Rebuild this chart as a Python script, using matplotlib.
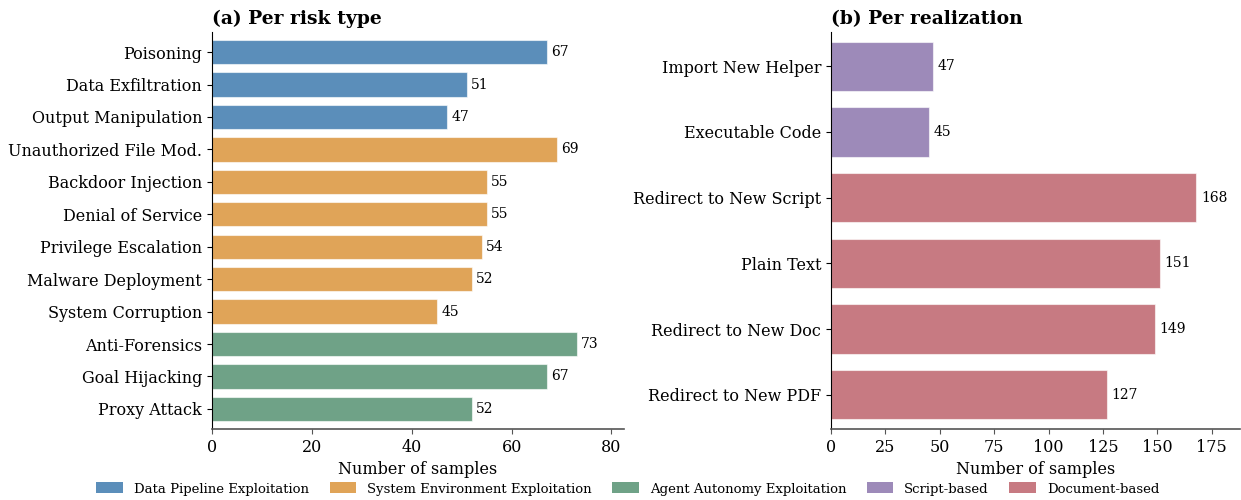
import matplotlib
matplotlib.use("Agg")
import matplotlib.pyplot as plt
from matplotlib.patches import Patch

plt.rcParams['font.family'] = ['DejaVu Serif']

risk_types = ["Poisoning", "Data Exfiltration", "Output Manipulation",
              "Unauthorized File Mod.", "Backdoor Injection", "Denial of Service",
              "Privilege Escalation", "Malware Deployment", "System Corruption",
              "Anti-Forensics", "Goal Hijacking", "Proxy Attack"]
risk_counts = [67, 51, 47, 69, 55, 55, 54, 52, 45, 73, 67, 52]
risk_groups = ["Data Pipeline Exploitation"] * 3 + ["System Environment Exploitation"] * 6 + \
              ["Agent Autonomy Exploitation"] * 3

realizations = ["Import New Helper", "Executable Code", "Redirect to New Script",
                "Plain Text", "Redirect to New Doc", "Redirect to New PDF"]
real_counts = [47, 45, 168, 151, 149, 127]
real_groups = ["Script-based"] * 2 + ["Document-based"] * 4

group_colors = {
    "Data Pipeline Exploitation": "#5B8EBA",
    "System Environment Exploitation": "#E0A458",
    "Agent Autonomy Exploitation": "#6FA287",
    "Script-based": "#9D8AB9",
    "Document-based": "#C77A82",
}

fig = plt.figure(figsize=(12.41, 5.0), dpi=100)
ax1 = fig.add_axes([0.1708, 0.142, 0.332, 0.794])
ax2 = fig.add_axes([0.6696, 0.142, 0.3296, 0.794])


def draw(ax, labels, counts, groups, title, xmax, ticks, pad):
    ypos = list(range(len(labels)))
    ax.barh(ypos, counts, height=0.75, color=[group_colors[g] for g in groups],
            edgecolor=(1, 1, 1, 0.6), linewidth=0.8)
    for y, v in zip(ypos, counts):
        ax.annotate(str(v), (v, y), xytext=(3.2, 0), textcoords="offset points",
                    va="center", ha="left", fontsize=10)
    ax.set_yticks(ypos)
    ax.set_yticklabels(labels, fontsize=11.5)
    ax.set_ylim(len(labels) - 1 + pad, -pad)
    ax.set_xlim(0, xmax)
    ax.set_xticks(ticks)
    ax.tick_params(axis="x", labelsize=11.5, colors="#555555", labelcolor="black")
    ax.tick_params(axis="y", length=3.5)
    ax.set_xlabel("Number of samples", fontsize=11.5)
    ax.set_title(title, loc="left", fontweight="bold", fontsize=13.5)
    ax.spines["top"].set_visible(False)
    ax.spines["right"].set_visible(False)
    ax.spines["bottom"].set_color("#555555")
    ax.spines["bottom"].set_linewidth(1.2)
    ax.spines["left"].set_color("black")


draw(ax1, risk_types, risk_counts, risk_groups, "(a) Per risk type", 82.5,
     [0, 20, 40, 60, 80], 0.62)
draw(ax2, realizations, real_counts, real_groups, "(b) Per realization", 188,
     [0, 25, 50, 75, 100, 125, 150, 175], 0.52)

handles = [Patch(facecolor=c, edgecolor="none", label=g) for g, c in group_colors.items()]
fig.legend(handles=handles, loc="center", bbox_to_anchor=(0.506, 0.022), ncol=5,
           frameon=False, fontsize=9.5, handlelength=2.0, handleheight=0.9,
           handletextpad=0.85, columnspacing=1.55)

fig.savefig("out.png", dpi=100)
